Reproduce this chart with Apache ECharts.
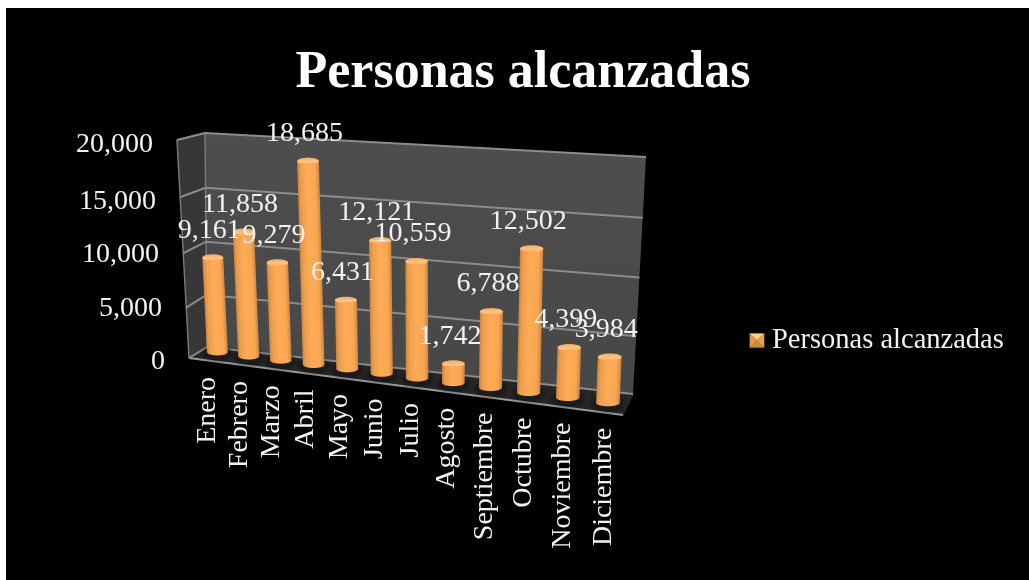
<!DOCTYPE html>
<html><head><meta charset="utf-8">
<style>html,body{margin:0;padding:0;background:#fff}#c{width:1029px;height:580px}</style>
<script src="https://cdn.jsdelivr.net/npm/echarts@6/dist/echarts.min.js"></script>
</head><body><div id="c"></div>
<script>
const seriesName = 'Personas alcanzadas';
const months = ['Enero','Febrero','Marzo','Abril','Mayo','Junio','Julio','Agosto','Septiembre','Octubre','Noviembre','Diciembre'];
const values = [9161,11858,9279,18685,6431,12121,10559,1742,6788,12502,4399,3984];
const yTicks = [0,5000,10000,15000,20000];

const FONT = '"Liberation Serif", serif';
const GRID = {left:170, top:144.5, width:460, height:217};

function homography(p0,p1,p2,p3){ // (0,0),(1,0),(1,1),(0,1)
  const dx1=p1[0]-p2[0],dx2=p3[0]-p2[0],sx=p0[0]-p1[0]+p2[0]-p3[0];
  const dy1=p1[1]-p2[1],dy2=p3[1]-p2[1],sy=p0[1]-p1[1]+p2[1]-p3[1];
  const den=dx1*dy2-dx2*dy1;
  const g=(sx*dy2-dx2*sy)/den,h=(dx1*sy-sx*dy1)/den;
  const a=p1[0]-p0[0]+g*p1[0],b=p3[0]-p0[0]+h*p3[0],c=p0[0];
  const d=p1[1]-p0[1]+g*p1[1],e=p3[1]-p0[1]+h*p3[1],f=p0[1];
  return (t,u)=>{const w=g*t+h*u+1;return [(a*t+b*u+c)/w,(d*t+e*u+f)/w];};
}
// the bars' mid-depth plane and the back wall, as seen in perspective
const barPlane = homography([202,350],[628.4,405.6],[639,163],[191,140]);
const backWall = homography([207,347],[633,394],[646,157],[205,133]);
const toUnit = (pt)=>[(pt[0]-GRID.left)/GRID.width,(GRID.top+GRID.height-pt[1])/GRID.height];
const sideFront = (u)=>{const k=Math.pow(u,1.06);return [189-12*u,358-218*k];};

function ellipsePts(cx,cy,rx,ry,from,to,n){
  const out=[];
  for(let i=0;i<=n;i++){const a=from+(to-from)*i/n;out.push([cx+rx*Math.cos(a),cy+ry*Math.sin(a)]);}
  return out;
}
const bodyStops=[
  {offset:0,color:'#c98540'},{offset:.14,color:'#ec9d4e'},{offset:.45,color:'#ffab56'},
  {offset:.82,color:'#f9a652'},{offset:1,color:'#cb8742'}];
const capFill={type:'linear',x:0,y:0,x2:0,y2:1,colorStops:[
  {offset:0,color:'#f4aa60'},{offset:.6,color:'#ffc488'},{offset:1,color:'#f8a857'}]};

function renderWall(params,api){
  const v=api.value(0);
  const u=toUnit(api.coord([0,v]))[1];
  const kids=[];
  const lineStyle={stroke:'#8c8c8c',lineWidth:2,fill:null};
  if(params.dataIndex===0){
    const bl=backWall(0,0),br=backWall(1,0),tr=backWall(1,1),tl=backWall(0,1);
    const fb=sideFront(0),ft=sideFront(1),fr=[623,415];
    kids.push({type:'polygon',shape:{points:[bl,br,tr,tl]},style:{fill:{type:'linear',x:0,y:0,x2:0,y2:1,colorStops:[{offset:0,color:'#4e4e4e'},{offset:1,color:'#474747'}]}}});
    kids.push({type:'polygon',shape:{points:[ft,tl,bl,fb]},style:{fill:'#373737'}});
    kids.push({type:'polygon',shape:{points:[fb,bl,br,fr]},style:{fill:'#262626'}});
    kids.push({type:'polyline',shape:{points:[fb,fr]},style:{stroke:'#9a9a9a',lineWidth:2,fill:null}});
    kids.push({type:'polyline',shape:{points:[fb,ft,tl,bl]},style:{stroke:'#7c7c7c',lineWidth:1.4,fill:null}});
    kids.push({type:'polyline',shape:{points:[fr,br]},style:{stroke:'#333',lineWidth:1,fill:null}});
  }
  kids.push({type:'polyline',shape:{points:[sideFront(u),backWall(0,u),backWall(1,u)]},style:lineStyle});
  return {type:'group',children:kids};
}

function renderBar(params,api){
  const i=api.value(0),v=api.value(1);
  const [t,u]=toUnit(api.coord([i,v]));
  const base=barPlane(t,0),top=barPlane(t,u);
  const r=10.4+1.5*t,ry=3.4;
  const body=[[top[0]-r,top[1]],[top[0]+r,top[1]]]
    .concat(ellipsePts(base[0],base[1],r,ry,0,Math.PI,16));
  // shade across the cylinder's own (tilted) axis
  const dx=top[0]-base[0],dy=top[1]-base[1],len=Math.hypot(dx,dy)||1;
  const nx=-dy/len,ny=dx/len,mx=(top[0]+base[0])/2,my=(top[1]+base[1])/2;
  const sx=nx>0?1:-1;
  const bodyFill={type:'linear',global:true,
    x:mx-sx*nx*r,y:my-sx*ny*r,x2:mx+sx*nx*r,y2:my+sx*ny*r,colorStops:bodyStops};
  const kids=[
    {type:'polygon',z2:0,shape:{points:ellipsePts(base[0],base[1]+1,r+3,ry+3,0,2*Math.PI,32)},
      style:{fill:'#1b1b1b',shadowBlur:6,shadowColor:'rgba(0,0,0,.7)'}},
    {type:'polygon',z2:1,shape:{points:body},style:{fill:bodyFill}},
    {type:'polygon',z2:2,shape:{points:ellipsePts(top[0],top[1],r,ry,0,2*Math.PI,32)},style:{fill:capFill}},
    {type:'text',z2:20,style:{text:api.value(1).toLocaleString('en-US'),x:top[0]-3.5,y:top[1]-ry-24,
      align:'center',verticalAlign:'middle',fill:'#f2f2f2',font:'28px '+FONT}},
    {type:'text',z2:20,rotation:Math.PI/2,x:base[0]-10+6*t,y:base[1]+25,
      style:{text:months[i],x:0,y:0,align:'right',verticalAlign:'middle',fill:'#f2f2f2',font:'28px '+FONT}}
  ];
  return {type:'group',children:kids};
}

const iconSvg='<svg xmlns="http://www.w3.org/2000/svg" width="16" height="16">'+
 '<rect width="16" height="16" fill="#4a2d10"/>'+
 '<polygon points="1,1 15,1 8,8" fill="#ffd08c"/><polygon points="1,1 1,15 8,8" fill="#e29a4e"/>'+
 '<polygon points="15,1 15,15 8,8" fill="#e8a054"/><polygon points="1,15 15,15 8,8" fill="#d08a42"/></svg>';

const chart=echarts.init(document.getElementById('c'),null,{renderer:'canvas'});
chart.setOption({
  animation:false,
  backgroundColor:'#ffffff',
  graphic:[{type:'rect',z:-10,silent:true,shape:{x:6,y:8,width:1023,height:572},style:{fill:'#000'}}],
  title:{text:seriesName,left:518,textAlign:'center',top:43,
    textStyle:{color:'#fff',fontFamily:FONT,fontWeight:'bold',fontSize:52}},
  legend:{left:749,top:326,padding:0,orient:'vertical',itemWidth:16,itemHeight:16,selectedMode:false,
    data:[{name:seriesName,icon:'image://data:image/svg+xml;charset=utf-8,'+encodeURIComponent(iconSvg)}],
    textStyle:{color:'#f2f2f2',fontFamily:FONT,fontSize:28.5,padding:[7,0,0,2]}},
  grid:GRID,
  xAxis:{type:'category',data:months,axisLine:{show:false},axisTick:{show:false},axisLabel:{show:false},splitLine:{show:false}},
  yAxis:{type:'value',min:0,max:20000,interval:5000,axisLine:{show:false},axisTick:{show:false},splitLine:{show:false},
    axisLabel:{margin:5,formatter:(val)=>'{t'+val+'|'+val.toLocaleString('en-US')+'}',
      rich:{t0:{padding:[0,0,0,0]},t5000:{padding:[2,3,0,0]},t10000:{padding:[4,6,0,0]},t15000:{padding:[5,9,0,0]},t20000:{padding:[0,12,0,0]}},
      color:'#f2f2f2',fontFamily:FONT,fontSize:28}},
  series:[
    {type:'custom',name:'wall',z:1,silent:true,clip:false,data:yTicks.map(v=>[v]),renderItem:renderWall,encode:{y:0},tooltip:{show:false}},
    {type:'custom',name:seriesName,z:2,silent:true,clip:false,itemStyle:{color:'#f7a451'},data:values.map((v,i)=>[i,v]),renderItem:renderBar,encode:{x:0,y:1}}
  ]
});
</script></body></html>
